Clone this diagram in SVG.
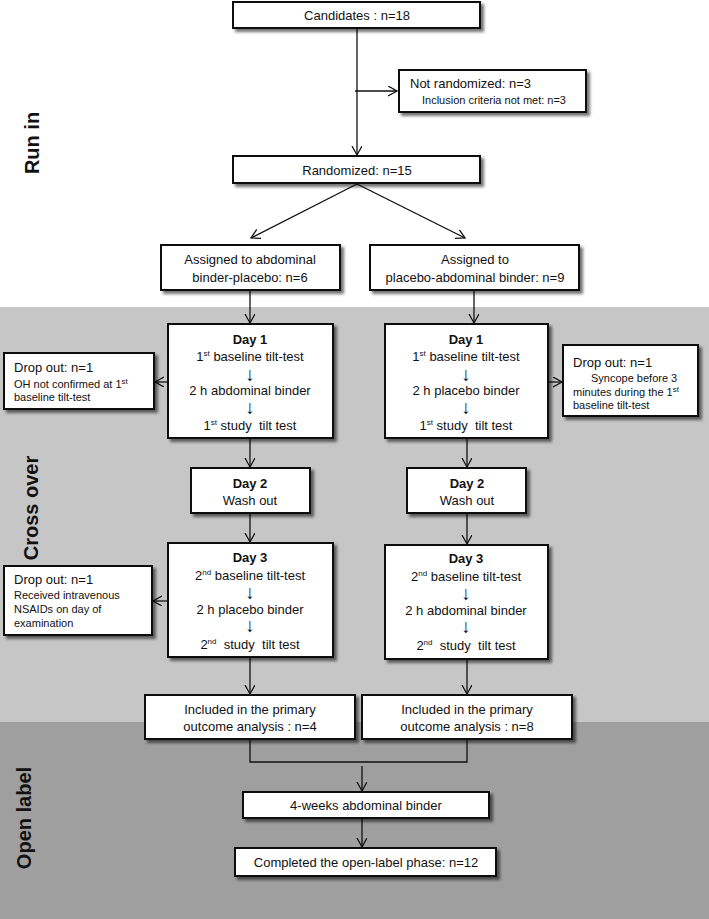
<svg xmlns="http://www.w3.org/2000/svg" width="709" height="919" viewBox="0 0 709 919">
<defs>
<filter id="sh" x="-10%" y="-10%" width="130%" height="140%">
<feDropShadow dx="3" dy="3" stdDeviation="1.5" flood-color="#000" flood-opacity="0.55"/>
</filter>
<marker id="ah" markerUnits="userSpaceOnUse" markerWidth="12" markerHeight="12" refX="9" refY="5" orient="auto" viewBox="0 0 12 12">
<path d="M0,0 L9,5 L0,10" fill="none" stroke="#111" stroke-width="1.3"/>
</marker>
<style>
.box{fill:#fff;stroke:#111;stroke-width:2;filter:url(#sh)}
.t{font-family:"Liberation Sans",Arial,sans-serif;font-size:13px;fill:#111;white-space:pre}
.c{text-anchor:middle}
.s{font-size:11px}
.b{font-weight:bold}
.sup{font-size:8px}
.dn{font-family:"Liberation Sans",Arial,sans-serif;font-size:19px;fill:#111;text-anchor:middle}
.lab{font-family:"Liberation Sans",Arial,sans-serif;font-size:20px;font-weight:bold;fill:#111;text-anchor:middle}
.ln{fill:none;stroke:#111;stroke-width:1.3}
.ar{fill:none;stroke:#111;stroke-width:1.3;marker-end:url(#ah)}
</style>
</defs>
<rect x="0" y="0" width="709" height="919" fill="#fff"/>
<rect x="0" y="307" width="709" height="415" fill="#c6c6c6"/>
<rect x="0" y="722" width="709" height="197" fill="#9f9f9f"/>

<text class="lab" transform="translate(39,143) rotate(-90)">Run in</text>
<text class="lab" transform="translate(38,508) rotate(-90)">Cross over</text>
<text class="lab" transform="translate(31,818) rotate(-90)">Open label</text>

<g id="connectors">
<line class="ar" x1="357" y1="28" x2="357" y2="155"/>
<line class="ar" x1="355" y1="91" x2="397" y2="91"/>
<line class="ar" x1="357" y1="184" x2="251" y2="238"/>
<line class="ar" x1="357" y1="184" x2="465" y2="238"/>
<line class="ar" x1="250" y1="290" x2="250" y2="323"/>
<line class="ar" x1="474" y1="290" x2="474" y2="323"/>
<line class="ar" x1="168" y1="382" x2="155" y2="382"/>
<line class="ar" x1="548" y1="382" x2="562" y2="382"/>
<line class="ar" x1="250" y1="438" x2="250" y2="467"/>
<line class="ar" x1="467" y1="438" x2="467" y2="467"/>
<line class="ar" x1="250" y1="513" x2="250" y2="542"/>
<line class="ar" x1="467" y1="513" x2="467" y2="544"/>
<line class="ar" x1="168" y1="601" x2="153" y2="601"/>
<line class="ar" x1="250" y1="657" x2="250" y2="694"/>
<line class="ar" x1="467" y1="659" x2="467" y2="694"/>
<polyline class="ln" points="250,739 250,762 467,762 467,739"/>
<line class="ar" x1="362" y1="766" x2="362" y2="791"/>
<line class="ar" x1="362" y1="818" x2="362" y2="847"/>
</g>

<g id="candidates">
<rect class="box" x="233" y="2" width="247" height="26"/>
<text class="t c" x="357" y="20">Candidates : n=18</text>
</g>
<g id="not-randomized">
<rect class="box" x="399" y="70" width="187" height="42"/>
<text class="t" x="410" y="88">Not randomized: n=3</text>
<text class="t s" x="422" y="104">Inclusion criteria not met: n=3</text>
</g>
<g id="randomized">
<rect class="box" x="233" y="156" width="247" height="27"/>
<text class="t c" x="357" y="175">Randomized: n=15</text>
</g>
<g id="assigned-ab">
<rect class="box" x="161" y="245" width="179" height="45"/>
<text class="t c" x="250" y="264">Assigned to abdominal</text>
<text class="t c" x="250" y="282">binder-placebo: n=6</text>
</g>
<g id="assigned-pb">
<rect class="box" x="370" y="245" width="209" height="45"/>
<text class="t c" x="475" y="264">Assigned to</text>
<text class="t c" x="475" y="282">placebo-abdominal binder: n=9</text>
</g>

<g id="day1-left">
<rect class="box" x="168" y="324" width="165" height="114"/>
<text class="t c b" x="250" y="344">Day 1</text>
<text class="t c" x="250" y="361">1<tspan class="sup" dy="-5">st</tspan><tspan dy="5"> baseline tilt-test</tspan></text>
<text class="dn" x="250" y="381">↓</text>
<text class="t c" x="250" y="395">2 h abdominal binder</text>
<text class="dn" x="250" y="414">↓</text>
<text class="t c" x="250" y="430">1<tspan class="sup" dy="-5">st</tspan><tspan dy="5"> study  tilt test</tspan></text>
</g>
<g id="day1-right">
<rect class="box" x="385" y="324" width="163" height="114"/>
<text class="t c b" x="466" y="344">Day 1</text>
<text class="t c" x="466" y="361">1<tspan class="sup" dy="-5">st</tspan><tspan dy="5"> baseline tilt-test</tspan></text>
<text class="dn" x="466" y="381">↓</text>
<text class="t c" x="466" y="395">2 h placebo binder</text>
<text class="dn" x="466" y="414">↓</text>
<text class="t c" x="466" y="430">1<tspan class="sup" dy="-5">st</tspan><tspan dy="5"> study  tilt test</tspan></text>
</g>
<g id="dropout1-left">
<rect class="box" x="4" y="353" width="150" height="56"/>
<text class="t" x="14" y="372">Drop out: n=1</text>
<text class="t s" x="14" y="388">OH not confirmed at 1<tspan class="sup" dy="-4">st</tspan></text>
<text class="t s" x="14" y="401">baseline tilt-test</text>
</g>
<g id="dropout1-right">
<rect class="box" x="563" y="345" width="135" height="71"/>
<text class="t" x="573" y="367">Drop out: n=1</text>
<text class="t s" x="591" y="382">Syncope before 3</text>
<text class="t s" x="573" y="396">minutes during the 1<tspan class="sup" dy="-4">st</tspan></text>
<text class="t s" x="573" y="409">baseline tilt-test</text>
</g>

<g id="day2-left">
<rect class="box" x="191" y="468" width="119" height="45"/>
<text class="t c b" x="250" y="488">Day 2</text>
<text class="t c" x="250" y="505">Wash out</text>
</g>
<g id="day2-right">
<rect class="box" x="407" y="468" width="119" height="45"/>
<text class="t c b" x="467" y="488">Day 2</text>
<text class="t c" x="467" y="505">Wash out</text>
</g>

<g id="day3-left">
<rect class="box" x="168" y="543" width="165" height="114"/>
<text class="t c b" x="250" y="562">Day 3</text>
<text class="t c" x="250" y="580">2<tspan class="sup" dy="-5">nd</tspan><tspan dy="5"> baseline tilt-test</tspan></text>
<text class="dn" x="250" y="599">↓</text>
<text class="t c" x="250" y="614">2 h placebo binder</text>
<text class="dn" x="250" y="632">↓</text>
<text class="t c" x="250" y="649">2<tspan class="sup" dy="-5">nd</tspan><tspan dy="5">  study  tilt test</tspan></text>
</g>
<g id="day3-right">
<rect class="box" x="385" y="545" width="163" height="114"/>
<text class="t c b" x="466" y="563">Day 3</text>
<text class="t c" x="466" y="581">2<tspan class="sup" dy="-5">nd</tspan><tspan dy="5"> baseline tilt-test</tspan></text>
<text class="dn" x="466" y="600">↓</text>
<text class="t c" x="466" y="615">2 h abdominal binder</text>
<text class="dn" x="466" y="633">↓</text>
<text class="t c" x="466" y="650">2<tspan class="sup" dy="-5">nd</tspan><tspan dy="5">  study  tilt test</tspan></text>
</g>
<g id="dropout3-left">
<rect class="box" x="4" y="566" width="148" height="69"/>
<text class="t" x="14" y="584">Drop out: n=1</text>
<text class="t s" x="14" y="599">Received intravenous</text>
<text class="t s" x="14" y="613">NSAIDs on day of</text>
<text class="t s" x="14" y="627">examination</text>
</g>

<g id="included-left">
<rect class="box" x="145" y="695" width="210" height="44"/>
<text class="t c" x="250" y="714">Included in the primary</text>
<text class="t c" x="250" y="731">outcome analysis : n=4</text>
</g>
<g id="included-right">
<rect class="box" x="362" y="695" width="210" height="44"/>
<text class="t c" x="467" y="714">Included in the primary</text>
<text class="t c" x="467" y="731">outcome analysis : n=8</text>
</g>
<g id="four-weeks">
<rect class="box" x="243" y="792" width="246" height="26"/>
<text class="t c" x="366" y="810">4-weeks abdominal binder</text>
</g>
<g id="completed">
<rect class="box" x="235" y="848" width="261" height="28"/>
<text class="t c" x="366" y="867">Completed the open-label phase: n=12</text>
</g>
</svg>
